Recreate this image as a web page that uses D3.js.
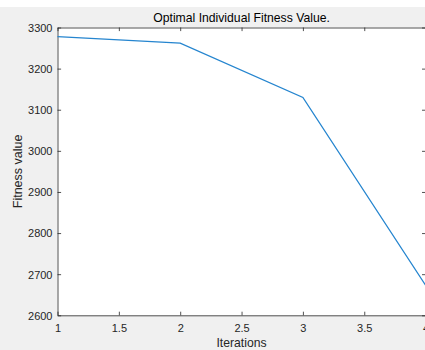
<!DOCTYPE html>
<html>
<head>
<meta charset="utf-8">
<script src="https://cdn.jsdelivr.net/npm/d3@7/dist/d3.min.js"></script>
<style>
html,body{margin:0;padding:0;background:#f0f0f0;}
svg{display:block;}
text{font-family:"Liberation Sans", Arial, sans-serif;}
</style>
</head>
<body>
<svg id="c" width="425" height="350"></svg>
<script>
const iterations = [1, 2, 3, 4];
const fitness = [3278, 3262, 3130, 2673];
const xTicks = [1, 1.5, 2, 2.5, 3, 3.5, 4];
const yTicks = [2600, 2700, 2800, 2900, 3000, 3100, 3200, 3300];
const titleText = "Optimal Individual Fitness Value.";
const xLabel = "Iterations";
const yLabel = "Fitness value";

const svg = d3.select("#c");
const L = 57.5, R = 425.6, T = 27.5, B = 315.3;
const axisColor = "#262626";

svg.append("rect").attr("x",0).attr("y",0).attr("width",425).attr("height",350).attr("fill","#f0f0f0");
svg.append("rect").attr("x",0).attr("y",0).attr("width",425).attr("height",7).attr("fill","#ffffff");
svg.append("rect").attr("x",L).attr("y",T).attr("width",R-L).attr("height",B-T).attr("fill","#ffffff");

const x = d3.scaleLinear().domain([1,4]).range([L,R]);
const y = d3.scaleLinear().domain([2600,3300]).range([B,T]);

const tk = 3.6;
function styleAxis(g){
  g.selectAll("path.domain").attr("stroke",axisColor).attr("stroke-width",0.8);
  g.selectAll(".tick line").attr("stroke",axisColor).attr("stroke-width",0.8);
}

// bottom axis
const gx = svg.append("g").attr("transform",`translate(0,${B})`)
  .call(d3.axisBottom(x).tickValues(xTicks).tickSizeInner(-tk).tickSizeOuter(0).tickFormat(d3.format("~g")));
styleAxis(gx);
gx.selectAll(".tick text").attr("y",17.2).attr("dy",null)
  .attr("fill",axisColor).style("font-size","11px").style("font-family","'Liberation Sans', Arial, sans-serif");

// top axis
const gxt = svg.append("g").attr("transform",`translate(0,${T})`)
  .call(d3.axisTop(x).tickValues(xTicks).tickSizeInner(-tk).tickSizeOuter(0).tickFormat(""));
styleAxis(gxt);

// left axis
const gy = svg.append("g").attr("transform",`translate(${L},0)`)
  .call(d3.axisLeft(y).tickValues(yTicks).tickSizeInner(-tk).tickSizeOuter(0).tickFormat(d3.format("d")));
styleAxis(gy);
gy.selectAll(".tick text").attr("x",-5).attr("dy","0.35em")
  .attr("fill",axisColor).style("font-size","11px").style("font-family","'Liberation Sans', Arial, sans-serif");

// right axis
const gyr = svg.append("g").attr("transform",`translate(${R},0)`)
  .call(d3.axisRight(y).tickValues(yTicks).tickSizeInner(-tk).tickSizeOuter(0).tickFormat(""));
styleAxis(gyr);

// line
const line = d3.line().x((d,i)=>x(iterations[i])).y(d=>y(d));
svg.append("path").datum(fitness).attr("d",line)
  .attr("fill","none").attr("stroke","#2585cf").attr("stroke-width",1.3);

// title and labels
svg.append("text").attr("x",(L+R)/2).attr("y",21.5).attr("text-anchor","middle")
  .attr("fill","#000").style("font-size","12.2px").text(titleText);
svg.append("text").attr("x",(L+R)/2).attr("y",346.5).attr("text-anchor","middle")
  .attr("fill",axisColor).style("font-size","12.2px").text(xLabel);
svg.append("text").attr("transform",`translate(21.5,${(T+B)/2}) rotate(-90)`).attr("text-anchor","middle")
  .attr("fill",axisColor).style("font-size","12.5px").text(yLabel);
</script>
</body>
</html>
